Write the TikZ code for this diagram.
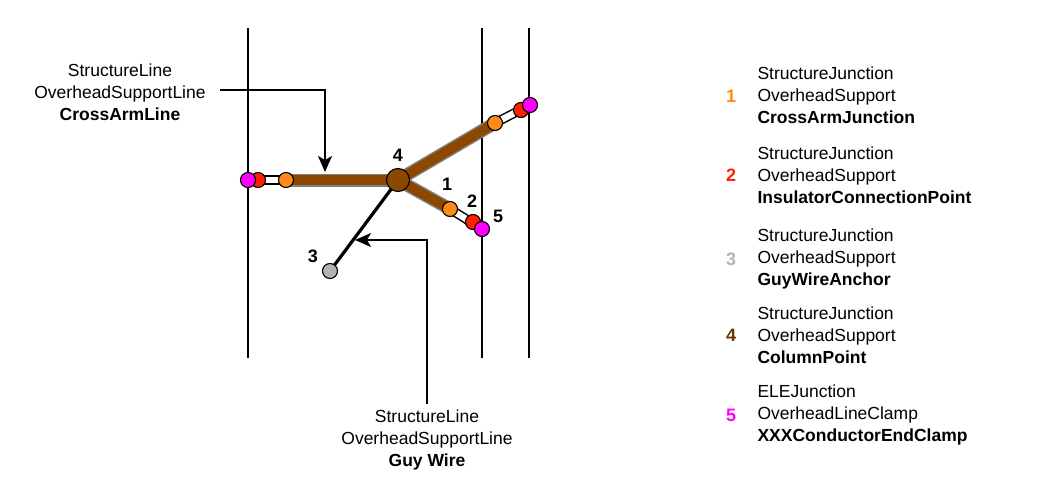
\documentclass[tikz,border=0pt]{standalone}
\usepackage{fontspec}
\setmainfont{Liberation Sans}
\usetikzlibrary{arrows.meta}
\definecolor{brownc}{HTML}{8C4700}
\definecolor{org}{HTML}{FF8A1A}
\definecolor{rdc}{HTML}{FF2000}
\definecolor{mgc}{HTML}{FF00FF}
\definecolor{gryc}{HTML}{B3B3B3}
\begin{document}
\begin{tikzpicture}[x=1pt,y=-1pt,
  pt/.style={circle,draw=black,line width=1.1pt,minimum size=15pt,inner sep=0pt},
  org/.style={pt,fill=org},
  rd/.style={pt,fill=rdc},
  mg/.style={pt,fill=mgc},
  arm/.style={line width=13pt,draw=gray},
  armin/.style={line width=10pt,draw=brownc},
  ins/.style={line width=9.5pt,draw=black},
  insin/.style={line width=6.5pt,draw=white},
  pole/.style={line width=1.5pt},
  num/.style={font=\bfseries\fontsize{18}{18}\selectfont},
  txt/.style={font=\fontsize{17.5}{22}\selectfont,align=center},
  ltxt/.style={font=\fontsize{17.5}{22}\selectfont,align=left,anchor=west},
  ar/.style={line width=1.5pt,-{Stealth[length=16pt,width=14pt,inset=4pt]}}]
\useasboundingbox (0,0) rectangle (1060,500);
\coordinate (p1a) at (248,28); \coordinate (p1b) at (248,358);
\coordinate (p2a) at (482,28); \coordinate (p2b) at (482,358);
\coordinate (p3a) at (529,28); \coordinate (p3b) at (529,358);
\draw[pole] (p1a)--(p1b); \draw[pole] (p2a)--(p2b); \draw[pole] (p3a)--(p3b);
% positions
\coordinate (c) at (398,180);
\coordinate (lo) at (286,180); \coordinate (lr) at (258,180); \coordinate (lm) at (248,180);
\coordinate (uo) at (495,123); \coordinate (ur) at (521,110); \coordinate (um) at (530,105);
\coordinate (do) at (450,209); \coordinate (dr) at (473,222); \coordinate (dm) at (482,229);
\coordinate (g) at (330,271);
% arms
\foreach \e in {lo,uo,do}{\draw[arm] (c)--(\e);}
\foreach \e in {lo,uo,do}{\draw[armin] (c)--(\e);}
\draw[ins] (lo)--(lm); \draw[insin] (lo)--(lm);
\draw[ins] (uo)--(um); \draw[insin] (uo)--(um);
\draw[ins] (do)--(dm); \draw[insin] (do)--(dm);
\draw[line width=3.2pt] (c)--(g);
\node[org] (nlo) at (lo) {}; \node[rd] (nlr) at (lr) {}; \node[mg] (nlm) at (lm) {};
\node[org] (nuo) at (uo) {}; \node[rd] (nur) at (ur) {}; \node[mg] (num) at (um) {};
\node[org] (ndo) at (do) {}; \node[rd] (ndr) at (dr) {}; \node[mg] (ndm) at (dm) {};
\node[pt,fill=gryc] (ng) at (g) {};
\node[pt,fill=brownc,minimum size=23pt] (nc) at (c) {};
\node[num] (l4) at (398,155) {4};
\node[num] (l1) at (447,184) {1};
\node[num] (l2) at (472,201) {2};
\node[num] (l5) at (498,216) {5};
\node[num] (l3) at (313,256) {3};
% callouts
\node[txt] (t1) at (120,92) {StructureLine\\OverheadSupportLine\\\textbf{CrossArmLine}};
\coordinate (a1) at (220,90); \coordinate (a1t) at (325,172);
\draw[ar] (a1) -| (a1t);
\node[txt] (t2) at (427,440) {StructureLine\\OverheadSupportLine\\\textbf{Guy Wire}};
\coordinate (a2) at (427,404); \coordinate (a2t) at (355,240);
\draw[ar] (a2) |- (a2t);
% legend
\node[num,text=org] (n1) at (731,96) {1};
\node[ltxt] (g1) at (754,95) {StructureJunction\\OverheadSupport\\\textbf{CrossArmJunction}};
\node[num,text=rdc] (n2) at (731,175) {2};
\node[ltxt] (g2) at (754,175) {StructureJunction\\OverheadSupport\\\textbf{InsulatorConnectionPoint}};
\node[num,text=gryc] (n3) at (731,259) {3};
\node[ltxt] (g3) at (754,259) {StructureJunction\\OverheadSupport\\\textbf{GuyWireAnchor}};
\node[num,text=brownc!75!black] (n4) at (731,335) {4};
\node[ltxt] (g4) at (754,335) {StructureJunction\\OverheadSupport\\\textbf{ColumnPoint}};
\node[num,text=mgc] (n5) at (731,415) {5};
\node[ltxt] (g5) at (754,415) {ELEJunction\\OverheadLineClamp\\\textbf{XXXConductorEndClamp}};
\end{tikzpicture}
\end{document}
